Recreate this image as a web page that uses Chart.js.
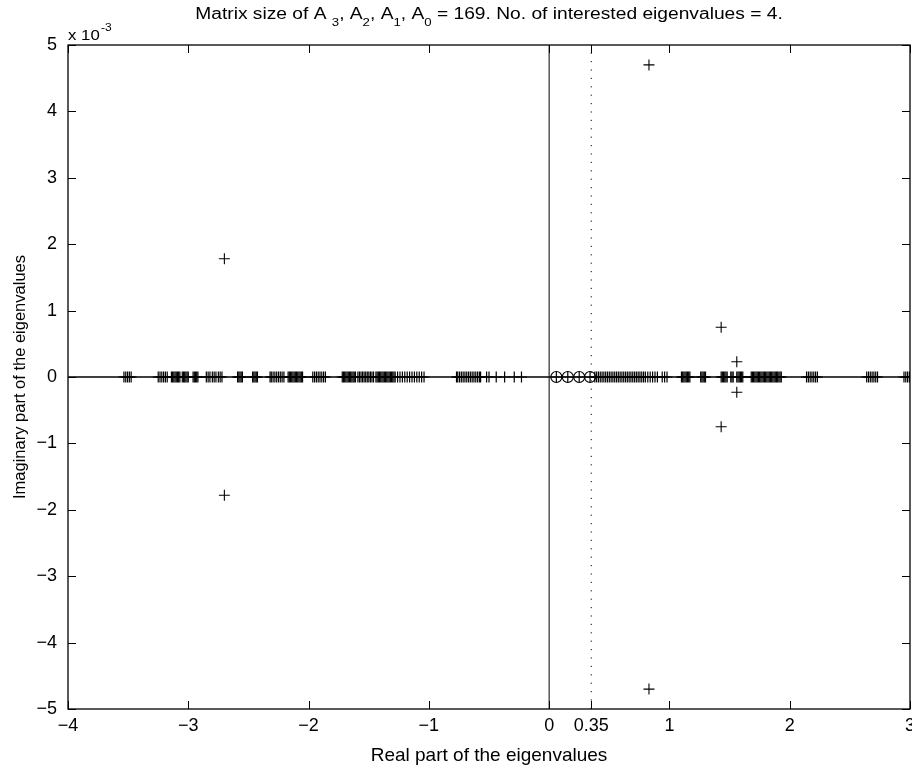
<!DOCTYPE html>
<html><head><meta charset="utf-8">
<script src="https://cdn.jsdelivr.net/npm/chart.js@4/dist/chart.umd.min.js"></script>
<style>html,body{margin:0;padding:0;background:#fff;overflow:hidden}#wrap{width:912px;height:770px;position:relative;overflow:hidden}</style>
</head><body><div id="wrap"><canvas id="c" width="921" height="770" style="width:921px;height:770px"></canvas></div>
<script>
// Real eigenvalues (imaginary part = 0)
const realEigenvalues = [
  -3.535, -3.52, -3.505, -3.49, -3.475,
  -3.25, -3.235, -3.22, -3.205, -3.19, -3.175,
  -3.14, -3.13, -3.12, -3.11, -3.10, -3.09, -3.08, -3.07,
  -3.05, -3.04, -3.03, -3.02, -3.01, -3.00,
  -2.96, -2.95, -2.94, -2.93, -2.92,
  -2.85, -2.835, -2.82, -2.80, -2.785, -2.77, -2.75, -2.735, -2.72,
  -2.59, -2.58, -2.57, -2.56, -2.55,
  -2.465, -2.455, -2.445, -2.435, -2.425,
  -2.32, -2.31, -2.295, -2.28, -2.265, -2.25, -2.235, -2.22, -2.205,
  -2.17, -2.16, -2.15, -2.14, -2.13, -2.12, -2.11, -2.10, -2.09, -2.08, -2.07, -2.06, -2.05,
  -1.965, -1.95, -1.935, -1.92, -1.905, -1.89, -1.875, -1.86,
  -1.72, -1.71, -1.70, -1.69, -1.68, -1.67, -1.66, -1.65, -1.64, -1.63, -1.62, -1.61,
  -1.59, -1.577, -1.564, -1.551, -1.538, -1.525, -1.512, -1.499, -1.486, -1.473, -1.46,
  -1.44, -1.43, -1.42, -1.41, -1.40, -1.39, -1.38, -1.37, -1.36, -1.35, -1.34, -1.33, -1.32, -1.31, -1.30, -1.29, -1.28,
  -1.26, -1.24, -1.22, -1.20, -1.18, -1.16, -1.14, -1.12, -1.10, -1.08, -1.06, -1.04,
  -0.77, -0.76, -0.745, -0.73, -0.715, -0.70, -0.685, -0.67, -0.655, -0.64, -0.625, -0.61, -0.595, -0.58, -0.57,
  -0.52, -0.50, -0.44, -0.37, -0.29, -0.23,
  0.06, 0.155, 0.25, 0.34,
  0.38, 0.395, 0.41, 0.425, 0.44, 0.455, 0.47, 0.485, 0.50, 0.515, 0.53, 0.545,
  0.56, 0.575, 0.59, 0.605, 0.62, 0.635, 0.65, 0.665, 0.68, 0.695, 0.71, 0.725,
  0.74, 0.755, 0.77, 0.785, 0.80, 0.82, 0.84, 0.86, 0.88, 0.90,
  0.94, 0.96, 0.98,
  1.10, 1.11, 1.12, 1.13, 1.14, 1.15, 1.16, 1.17,
  1.26, 1.27, 1.28, 1.29, 1.30,
  1.43, 1.44, 1.45, 1.46, 1.47, 1.48,
  1.51, 1.52, 1.53,
  1.56, 1.57, 1.58, 1.59, 1.60, 1.61,
  1.68, 1.69, 1.70, 1.71, 1.72, 1.73, 1.74, 1.75, 1.76, 1.77,
  1.78, 1.79, 1.80, 1.81, 1.82, 1.83,
  1.84, 1.85, 1.86, 1.87, 1.88, 1.89, 1.90, 1.91, 1.92, 1.93,
  2.14, 2.155, 2.17, 2.185, 2.20, 2.215, 2.23,
  2.64, 2.655, 2.67, 2.685, 2.70, 2.715, 2.73,
  2.95, 2.965, 2.98, 2.995
];
// Complex eigenvalues: real part and imaginary part (x 10^-3)
const complexRe   = [-2.70, -2.70, 0.83, 0.83, 1.43, 1.43, 1.56, 1.56];
const complexImE3 = [ 1.78, -1.78, 4.70, -4.70, 0.75, -0.75, 0.23, -0.23];
// Interested eigenvalues (circled)
const interestedEigenvalues = [0.06, 0.155, 0.25, 0.34];
const shiftValue = 0.35;
const xTicks = [-4, -3, -2, -1, 0, 0.35, 1, 2, 3];
const yTicks = [-5, -4, -3, -2, -1, 0, 1, 2, 3, 4, 5];
const xMin = -4, xMax = 3, yMin = -5, yMax = 5;

const FONT = '"Liberation Sans", Arial, Helvetica, sans-serif';
const minus = v => (v < 0 ? '\u2212' + Math.abs(v) : String(v));

const frame = {
  id: 'frame',
  afterDraw(chart) {
    const ctx = chart.ctx;
    const {left, right, top, bottom} = chart.chartArea;
    const xs = chart.scales.x, ys = chart.scales.y;
    ctx.save();
    ctx.strokeStyle = '#000';
    ctx.lineWidth = 1;
    ctx.beginPath();
    xTicks.forEach(v => {
      const p = Math.round(xs.getPixelForValue(v)) + 0.5;
      ctx.moveTo(p, bottom); ctx.lineTo(p, bottom - 8);
      ctx.moveTo(p, top); ctx.lineTo(p, top + 8);
    });
    yTicks.forEach(v => {
      const p = Math.round(ys.getPixelForValue(v)) + 0.5;
      ctx.moveTo(left, p); ctx.lineTo(left + 8, p);
      ctx.moveTo(right, p); ctx.lineTo(right - 8, p);
    });
    ctx.stroke();
    ctx.lineWidth = 1.3;
    ctx.strokeRect(left, top, right - left, bottom - top);

    ctx.fillStyle = '#000';
    ctx.textBaseline = 'alphabetic';
    ctx.textAlign = 'left';
    const SX = 1.2;
    // exponent label
    ctx.save();
    ctx.translate(left, 0); ctx.scale(SX, 1);
    ctx.font = '14px ' + FONT;
    ctx.fillText('x 10', 0, 40);
    const w = ctx.measureText('x 10').width;
    ctx.font = '10px ' + FONT;
    ctx.fillText('-3', w + 1, 31);
    ctx.restore();

    // title with subscripts
    const segs = [['Matrix size of A ', 0], ['3', 1], [', A', 0], ['2', 1], [', A', 0], ['1', 1], [', A', 0], ['0', 1], [' = 169. No. of interested eigenvalues = 4.', 0]];
    const fMain = '16px ' + FONT, fSub = '11px ' + FONT;
    let total = 0;
    segs.forEach(s => { ctx.font = s[1] ? fSub : fMain; total += ctx.measureText(s[0]).width; });
    ctx.save();
    ctx.translate((left + right) / 2 - total * SX / 2, 0); ctx.scale(SX, 1);
    let x = 0;
    segs.forEach(s => {
      ctx.font = s[1] ? fSub : fMain;
      ctx.fillText(s[0], x, s[1] ? 26 : 19);
      x += ctx.measureText(s[0]).width;
    });
    ctx.restore();
    ctx.restore();
  }
};

new Chart(document.getElementById('c'), {
  type: 'scatter',
  data: {
    datasets: [
      {
        label: 'interested',
        data: interestedEigenvalues.map(v => ({x: v, y: 0})),
        pointStyle: 'circle', pointRadius: 5.5, pointBorderWidth: 1.2,
        borderColor: '#000', backgroundColor: 'rgba(0,0,0,0)'
      },
      {
        label: 'real',
        data: realEigenvalues.map(v => ({x: v, y: 0})),
        pointStyle: 'cross', pointRadius: 5.5, pointBorderWidth: 1.2,
        borderColor: '#000', backgroundColor: '#000'
      },
      {
        label: 'complex',
        data: complexRe.map((v, i) => ({x: v, y: complexImE3[i]})),
        pointStyle: 'cross', pointRadius: 5.5, pointBorderWidth: 1.1,
        borderColor: '#000', backgroundColor: '#000'
      },
      {
        label: 'realAxis', showLine: true, pointRadius: 0,
        data: [{x: xMin, y: 0}, {x: xMax, y: 0}],
        borderColor: '#000', borderWidth: 1.5
      },
      {
        label: 'imagAxis', showLine: true, pointRadius: 0,
        data: [{x: 0, y: yMin}, {x: 0, y: yMax}],
        borderColor: '#000', borderWidth: 1
      },
      {
        label: 'shift', showLine: true, pointRadius: 0,
        data: [{x: shiftValue, y: yMin}, {x: shiftValue, y: yMax}],
        borderColor: '#000', borderWidth: 1, borderDash: [1.2, 7.2]
      }
    ]
  },
  options: {
    responsive: false,
    animation: false,
    devicePixelRatio: 1,
    layout: {padding: {top: 45, right: 0, left: 0, bottom: 0}},
    plugins: {legend: {display: false}, tooltip: {enabled: false}, title: {display: false}},
    scales: {
      x: {
        type: 'linear', min: xMin, max: xMax,
        afterBuildTicks: s => { s.ticks = xTicks.map(v => ({value: v})); },
        afterFit: s => { s.height = 61; },
        grid: {display: false, drawTicks: false}, border: {display: false},
        ticks: {autoSkip: false, maxRotation: 0, padding: 6, color: '#000',
                font: {family: FONT, size: 18}, callback: v => minus(v)},
        title: {display: true, text: 'Real part of the eigenvalues', color: '#000',
                font: {family: FONT, size: 19}, padding: {top: 0, bottom: 3}}
      },
      y: {
        type: 'linear', min: yMin, max: yMax,
        afterBuildTicks: s => { s.ticks = yTicks.map(v => ({value: v})); },
        afterFit: s => { s.width = 68; },
        grid: {display: false, drawTicks: false}, border: {display: false},
        ticks: {autoSkip: false, padding: 11, color: '#000',
                font: {family: FONT, size: 18}, callback: v => minus(v)},
        title: {display: true, text: 'Imaginary part of the eigenvalues', color: '#000',
                font: {family: FONT, size: 16.5}, padding: {top: 11, bottom: 0}}
      }
    }
  },
  plugins: [frame]
});
</script>
</body></html>
